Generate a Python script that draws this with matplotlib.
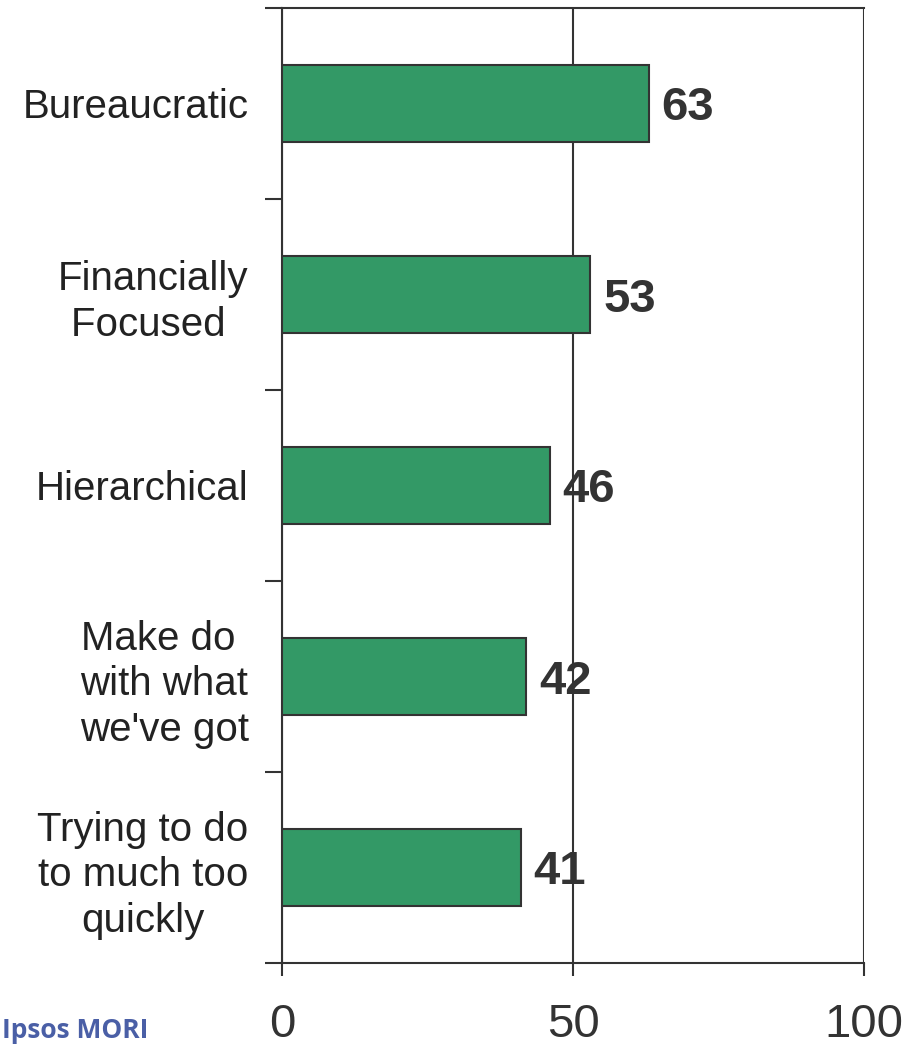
import matplotlib.pyplot as plt
import numpy as np

plt.rcParams['font.family'] = ['Liberation Sans', 'DejaVu Sans']

# data
categories = ['Bureaucratic', 'Financially\nFocused ', 'Hierarchical',
              'Make do \nwith what\nwe\'ve got', 'Trying to do\nto much too\nquickly']
values = [63, 53, 46, 42, 41]
xticks = [0, 50, 100]

dark = '#333333'
green = '#339966'

fig = plt.figure(figsize=(9.08, 10.53), dpi=100)
ax = fig.add_axes([282/908, 90/1053, 582/908, 955/1053])

y = np.arange(len(categories))
ax.barh(y, values, height=0.4, color=green, edgecolor=dark, linewidth=1.5, zorder=3)

for yi, v in zip(y, values):
    ax.text(v + 2.2, yi, str(v), va='center_baseline', ha='left', fontsize=34,
            fontweight='bold', color=dark, zorder=4)

ax.set_xlim(0, 100)
ax.set_ylim(len(categories) - 0.5, -0.5)

# x axis
ax.set_xticks(xticks)
ax.set_xticklabels([str(t) for t in xticks], fontsize=34, color=dark)
ax.tick_params(axis='x', direction='out', length=9, width=1.5, color=dark, pad=20)
ax.grid(axis='x', color=dark, linewidth=1.5, zorder=1)

# y axis: boundary ticks (major) and category labels (minor)
ax.set_yticks(np.arange(-0.5, len(categories), 1.0))
ax.set_yticklabels([])
ax.tick_params(axis='y', which='major', direction='out', length=12, width=1.5, color=dark)
ax.set_yticks(y, minor=True)
ax.set_yticklabels(categories, minor=True, fontsize=29, color='#222222',
                   multialignment='center', linespacing=1.25)
ax.tick_params(axis='y', which='minor', length=0, pad=24)

for side in ['left', 'bottom', 'top']:
    ax.spines[side].set_color(dark)
    ax.spines[side].set_linewidth(1.5)
ax.spines['right'].set_visible(False)

# logo text
fig.text(0.002, 22/1053, 'Ipsos MORI', fontsize=19, fontweight='bold',
         color='#4a5fa6', va='center', ha='left', family=['Open Sans', 'DejaVu Sans'])

plt.savefig('out.png', dpi=100)
plt.close()
